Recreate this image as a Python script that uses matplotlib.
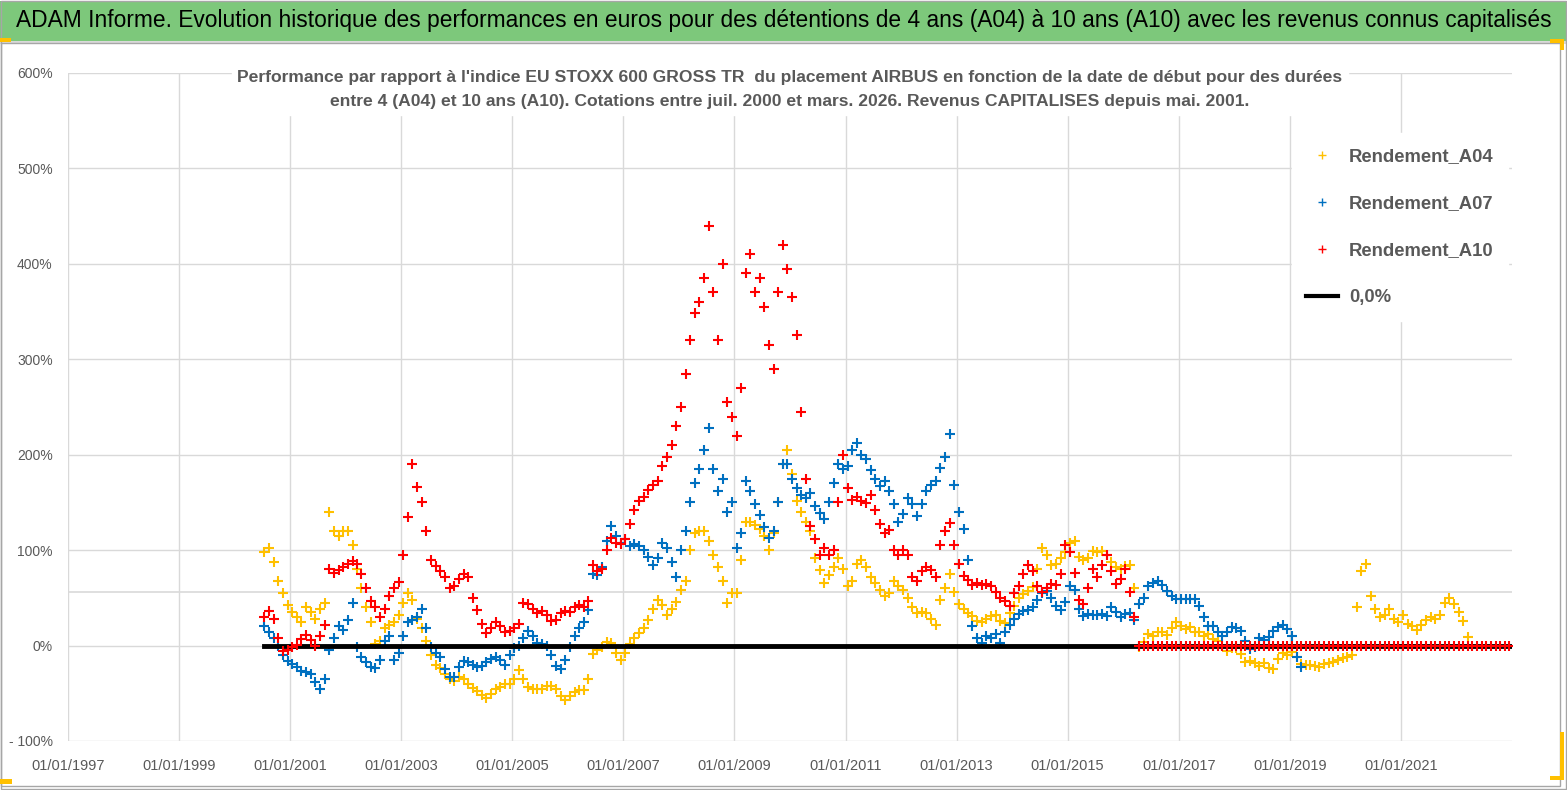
import pandas as pd
import matplotlib
matplotlib.use('Agg')
import matplotlib.pyplot as plt
from matplotlib.lines import Line2D
from matplotlib.patches import Rectangle
from matplotlib.ticker import FuncFormatter

plt.rcParams['font.family'] = ['Liberation Sans', 'DejaVu Sans']

# monthly readings, starting July 2000
a04 = [98, 102, 88, 68, 55, 42,
       35, 30, 25, 40, 35, 28, 38, 45, 140, 120, 115, 120,
       120, 105, 80, 60, 40, 25, 2, 5, 18, 22, 25, 32,
       45, 55, 48, 28, 18, 5, -10, -20, -24, -30, -35, -37,
       -33, -35, -40, -44, -48, -52, -55, -51, -46, -43, -40, -40,
       -35, -26, -35, -43, -46, -46, -46, -42, -42, -46, -53, -57,
       -53, -49, -47, -47, -35, -9, -5, -2, 4, 3, -8, -15,
       -8, 2, 8, 13, 18, 27, 38, 48, 42, 32, 38, 46,
       58, 68, 100, 118, 120, 120, 110, 95, 82, 68, 45, 55,
       55, 90, 130, 130, 126, 122, 115, 100, 118, 150, 190, 205,
       180, 152, 140, 130, 120, 92, 79, 66, 74, 82, 92, 80,
       62, 68, 85, 90, 82, 72, 66, 58, 52, 55, 68, 62,
       58, 50, 40, 34, 35, 34, 28, 22, 48, 60, 75, 56,
       44, 38, 34, 31, 26, 25, 28, 31, 32, 26, 24, 34,
       41, 50, 54, 57, 61, 80, 102, 95, 84, 86, 92, 98,
       107, 110, 93, 90, 92, 99, 98, 99, 95, 88, 82, 80,
       83, 84, 60, -2, 4, 12, 10, 14, 14, 11, 18, 25,
       20, 17, 19, 14, 14, 10, 12, 7, 5, 0, -6, -3,
       -3, -9, -17, -16, -18, -21, -18, -24, -25, -14, -8, -10,
       -7, -12, -19, -20, -20, -21, -22, -19, -18, -17, -15, -13,
       -12, -10, 40, 78, 86, 52, 38, 30, 32, 38, 28, 25,
       32, 23, 20, 16, 22, 27, 30, 28, 32, 45, 50, 44,
       35, 26, 9]

a07 = [20, 14, 8, 0, -10, -16,
       -19, -22, -27, -28, -30, -38, -45, -35, -5, 8, 20, 16,
       27, 45, -2, -12, -17, -22, -24, -15, 5, 10, -15, -8,
       10, 25, 27, 30, 38, 18, -1, -8, -12, -25, -33, -33,
       -22, -16, -17, -20, -22, -21, -17, -14, -12, -15, -20, -10,
       -3, 0, 8, 15, 10, 3, 2, 0, -10, -21, -25, -15,
       -2, 10, 18, 25, 37, 75, 74, 82, 110, 125, 115, 108,
       112, 104, 106, 104, 100, 93, 84, 92, 108, 102, 88, 72,
       100, 120, 150, 170, 185, 205, 228, 185, 162, 175, 140, 150,
       102, 118, 172, 162, 148, 137, 124, 113, 120, 150, 190, 190,
       175, 165, 158, 155, 160, 146, 139, 133, 150, 170, 190, 185,
       188, 205, 212, 200, 195, 184, 175, 167, 172, 162, 148, 130,
       138, 155, 148, 136, 148, 162, 168, 172, 186, 198, 222, 168,
       140, 122, 90, 20, 8, 3, 10, 8, 12, 3, 14, 22,
       28, 33, 36, 37, 40, 48, 55, 57, 50, 41, 37, 46,
       62, 58, 38, 31, 33, 32, 32, 33, 31, 40, 35, 30,
       33, 34, 27, 44, 50, 62, 66, 68, 63, 57, 52, 49,
       49, 49, 49, 49, 41, 30, 20, 20, 14, 10, 14, 19,
       18, 15, 5, -4, -1, 8, 6, 9, 15, 19, 22, 17,
       10, -12, -22]

a10 = [30, 36, 28, 8, -6, -5,
       -2, 1, 7, 11, 6, 0, 10, 22, 80, 76, 79, 82,
       85, 89, 86, 75, 60, 47, 40, 30, 38, 52, 60, 67,
       95, 135, 190, 166, 150, 120, 90, 83, 78, 72, 60, 62,
       70, 75, 72, 50, 37, 23, 13, 18, 25, 21, 14, 15,
       18, 23, 45, 44, 38, 34, 36, 32, 26, 27, 34, 36,
       35, 40, 43, 40, 47, 84, 78, 80, 100, 113, 108, 106,
       112, 127, 142, 152, 156, 163, 168, 172, 188, 198, 210, 230,
       250, 285, 320, 348, 360, 385, 440, 370, 320, 400, 255, 240,
       220, 270, 390, 410, 370, 385, 355, 315, 290, 370, 420, 395,
       365, 325, 245, 175, 125, 112, 95, 102, 95, 100, 150, 200,
       165, 153, 156, 152, 149, 158, 142, 127, 118, 121, 100, 95,
       100, 95, 72, 68, 78, 82, 79, 72, 105, 120, 128, 105,
       85, 73, 69, 63, 66, 63, 64, 62, 56, 50, 47, 41,
       55, 62, 75, 84, 78, 62, 56, 60, 64, 63, 75, 105,
       98, 76, 48, 44, 60, 80, 72, 84, 95, 78, 65, 70,
       80, 56, 30]
# no 10-year figure yet after March 2016: shown at 0
a10 = a10 + [0] * 81

years = list(range(1997, 2023, 2))
tick_labels = ['01/01/%d' % y for y in years]
yticks = [-100, 0, 100, 200, 300, 400, 500, 600]

GREY = '#595959'
W, H = 1567, 790


def month_dates(values):
    return pd.date_range('2000-07-01', periods=len(values), freq='MS') + pd.Timedelta(days=14)


def pct(v, pos=None):
    if v < 0:
        return '- %d%%' % abs(v)
    return '%d%%' % v


def px_rect(x, y, w, h, **kw):
    # rectangle given in picture pixels (top-left origin)
    return Rectangle((x / W, 1 - (y + h) / H), w / W, h / H, transform=fig.transFigure, **kw)


fig = plt.figure(figsize=(W / 100, H / 100), dpi=100)

# green title band
fig.patches.append(px_rect(0, 1, W, 40, facecolor='#7DC87B', edgecolor='none'))
fig.patches.append(px_rect(0, 41, W, 2.5, facecolor='#D9D9D9', edgecolor='none'))
fig.text(0.5, 1 - 21 / H,
         "ADAM Informe. Evolution historique des performances en euros pour des détentions de 4 ans (A04) "
         "à 10 ans (A10) avec les revenus connus capitalisés",
         ha='center', va='center', fontsize=16.4, color='black')
# chart frame and corner handles
fig.patches.append(px_rect(1, 43, 1559, 743, facecolor='none', edgecolor='#A6A6A6', lw=1))
fig.patches.append(px_rect(0.5, 0.5, W - 1.5, H - 1.5, facecolor='none', edgecolor='#A6A6A6', lw=1))
for (x, y, w, h) in [(0, 38, 11, 4), (0, 779, 12, 5),
                     (1550, 39, 14, 4), (1560, 39, 4, 11),
                     (1560, 732, 4, 48), (1550, 776, 14, 4)]:
    fig.patches.append(px_rect(x, y, w, h, facecolor='#FFC000', edgecolor='none'))

ax = fig.add_axes([68 / W, 1 - 741 / H, (1512 - 68) / W, (741 - 73) / H])

ax.plot(month_dates(a04), a04, linestyle='none', marker='+', ms=7, mew=1.5, color='#FFC000', zorder=3)
ax.plot(month_dates(a07), a07, linestyle='none', marker='+', ms=7, mew=1.5, color='#0070C0', zorder=4)
d10 = month_dates(a10)
ax.plot([d10[0], pd.Timestamp('2022-12-31')], [0, 0], color='black', lw=3.5, zorder=5)
ax.plot(d10, a10, linestyle='none', marker='+', ms=7, mew=1.5, color='#FF0000', zorder=6)

ax.set_xlim(pd.Timestamp('1997-01-01'), pd.Timestamp('2023-01-01'))
ax.set_ylim(-100, 600)
ax.set_xticks([pd.Timestamp('%d-01-01' % y) for y in years])
ax.set_xticklabels(tick_labels)
ax.set_yticks(yticks)
ax.yaxis.set_major_formatter(FuncFormatter(pct))
ax.grid(True, color='#D9D9D9', lw=1)
ax.axhline(56, color='#D9D9D9', lw=1.2, zorder=1)
ax.set_axisbelow(True)
for s in ax.spines.values():
    s.set_visible(False)
ax.tick_params(length=0, colors=GREY)
ax.tick_params(axis='x', labelsize=10.5, pad=13)
ax.tick_params(axis='y', labelsize=10, pad=11)

ax.text(0.5, 0.975,
        "Performance par rapport à l'indice EU STOXX 600 GROSS TR  du placement AIRBUS en fonction de la date "
        "de début pour des durées\nentre 4 (A04) et 10 ans (A10). Cotations entre juil. 2000 et mars. 2026. "
        "Revenus CAPITALISES depuis mai. 2001.",
        transform=ax.transAxes, ha='center', va='center', fontsize=12.6, fontweight='bold', color=GREY,
        linespacing=1.75, backgroundcolor='white', zorder=10)

handles = [Line2D([], [], linestyle='none', marker='+', ms=6, mew=1, color='#FFC000'),
           Line2D([], [], linestyle='none', marker='+', ms=6, mew=1, color='#0070C0'),
           Line2D([], [], linestyle='none', marker='+', ms=6, mew=1, color='#FF0000'),
           Line2D([], [], color='black', lw=3)]
leg = ax.legend(handles, ['Rendement_A04', 'Rendement_A07', 'Rendement_A10', '0,0%'],
                loc='upper right', bbox_to_anchor=(1.0, 0.915), frameon=True, fancybox=False,
                edgecolor='white', framealpha=1, fontsize=13.3, labelspacing=1.62,
                handlelength=1.7, handletextpad=0.6, borderpad=0.8, borderaxespad=0.2)
for t in leg.get_texts():
    t.set_color(GREY)
    t.set_fontweight('bold')

fig.savefig('out.png', dpi=100)
